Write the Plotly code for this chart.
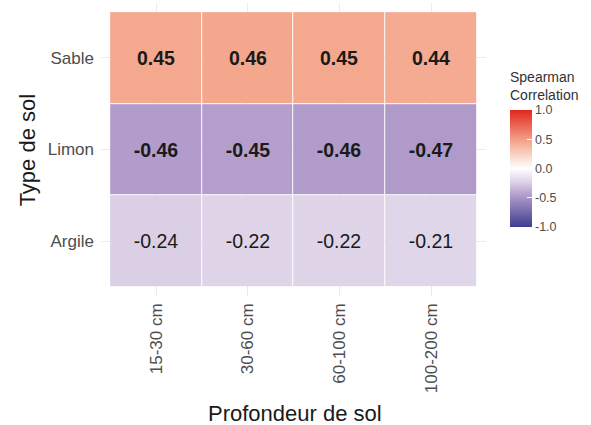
import plotly.graph_objects as go

# Soil depth classes (columns) and soil types (rows, bottom to top)
depths = ["15-30 cm", "30-60 cm", "60-100 cm", "100-200 cm"]
soil_types = ["Argile", "Limon", "Sable"]

# Spearman correlation per soil type across depths
argile = [-0.24, -0.22, -0.22, -0.21]
limon = [-0.46, -0.45, -0.46, -0.47]
sable = [0.45, 0.46, 0.45, 0.44]

z = [argile, limon, sable]

# Bold labels for the stronger correlations
text = [[(f"<b>{v:.2f}</b>" if abs(v) >= 0.4 else f"{v:.2f}") for v in row] for row in z]

colorscale = [
    [0.0, "#3D3C8F"],
    [0.27, "#B19CCB"],
    [0.39, "#DFD4E8"],
    [0.5, "#FFFFFF"],
    [0.725, "#F4A98F"],
    [1.0, "#E3261E"],
]

FONT = "Liberation Sans, Arial, sans-serif"

fig = go.Figure(
    go.Heatmap(
        x=list(range(len(depths))),
        y=list(range(len(soil_types))),
        z=z,
        text=text,
        texttemplate="%{text}",
        textfont=dict(family=FONT, size=19.5, color="#1A1A1A"),
        zmin=-1,
        zmax=1,
        colorscale=colorscale,
        xgap=1,
        ygap=1,
        colorbar=dict(
            thickness=22,
            len=117,
            lenmode="pixels",
            x=1.0623,
            xanchor="left",
            xpad=0,
            y=0.2355,
            yanchor="bottom",
            ypad=0,
            tickvals=[-1, -0.5, 0, 0.5, 1],
            ticktext=["-1.0", "-0.5", "0.0", "0.5", "1.0"],
            ticks="inside",
            ticklen=5,
            tickcolor="white",
            tickfont=dict(family=FONT, size=12.5, color="#4D4D4D"),
            outlinewidth=0,
        ),
    )
)

fig.update_layout(
    width=591,
    height=425,
    margin=dict(l=101, r=105, t=3, b=129),
    paper_bgcolor="white",
    plot_bgcolor="white",
    font=dict(family=FONT),
    xaxis=dict(
        range=[-0.6, 3.6],
        tickvals=list(range(len(depths))),
        ticktext=depths,
        tickangle=-90,
        tickfont=dict(size=17, color="#4D4D4D"),
        ticklabelstandoff=3,
        showgrid=True,
        gridcolor="#EBEBEB",
        zeroline=False,
        showline=False,
        ticks="",
    ),
    yaxis=dict(
        range=[-0.6, 2.6],
        tickvals=list(range(len(soil_types))),
        ticktext=soil_types,
        tickfont=dict(size=17, color="#4D4D4D"),
        ticklabelstandoff=6,
        showgrid=True,
        gridcolor="#EBEBEB",
        zeroline=False,
        showline=False,
        ticks="",
    ),
    annotations=[
        dict(text="Type de sol", xref="paper", yref="paper", x=-0.19, y=0.5,
             xanchor="center", yanchor="middle", textangle=-90, showarrow=False,
             font=dict(size=22, color="#1A1A1A")),
        dict(text="Profondeur de sol", xref="paper", yref="paper", x=0.5026, y=-0.40,
             xanchor="center", yanchor="middle", showarrow=False,
             font=dict(size=22, color="#1A1A1A")),
        dict(text="Spearman<br>Correlation", xref="paper", yref="paper", x=1.0623, y=0.652,
             xanchor="left", yanchor="bottom", align="left", showarrow=False, xshift=-2,
             font=dict(family=FONT, size=14, color="#333333")),
    ],
)

fig.write_html("out.html")
